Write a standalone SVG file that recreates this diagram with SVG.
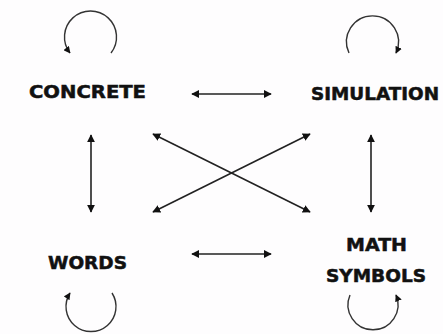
<svg xmlns="http://www.w3.org/2000/svg" width="443" height="334" viewBox="0 0 443 334">
<style>
.lbl{font-family:"DejaVu Sans","Liberation Sans",sans-serif;font-weight:bold;font-size:17px;fill:#111;stroke:#111;stroke-width:0.5;text-anchor:middle}
.ln{stroke:#222;stroke-width:1.6;fill:none}
.lp{stroke:#333;stroke-width:1.4;fill:none}
</style>
<defs>
<marker id="ah" viewBox="0 0 10 10" refX="9" refY="5" markerWidth="8" markerHeight="8" markerUnits="userSpaceOnUse" orient="auto-start-reverse">
<path d="M0,0 L10,5 L0,10 Z" fill="#111"/>
</marker>
<marker id="ahs" viewBox="0 0 10 10" refX="9" refY="5" markerWidth="7" markerHeight="7" markerUnits="userSpaceOnUse" orient="auto">
<path d="M0,0 L10,5 L0,10 Z" fill="#111"/>
</marker>
</defs>
<rect width="443" height="334" fill="#fefdfe"/>
<g id="concrete"><text class="lbl" x="87.5" y="98" textLength="117" lengthAdjust="spacingAndGlyphs">CONCRETE</text></g>
<g id="simulation"><text class="lbl" x="375" y="100" textLength="128" lengthAdjust="spacingAndGlyphs">SIMULATION</text></g>
<g id="words"><text class="lbl" x="87.5" y="269" textLength="79" lengthAdjust="spacingAndGlyphs">WORDS</text></g>
<g id="math-symbols"><text class="lbl" x="376.5" y="251" textLength="61" lengthAdjust="spacingAndGlyphs">MATH</text><text class="lbl" x="376" y="282" textLength="100" lengthAdjust="spacingAndGlyphs">SYMBOLS</text></g>
<g id="connectors">
<path class="lp" d="M111,53 A26,26 0 1 0 70,53" marker-end="url(#ahs)"/>
<path class="lp" d="M349,53 A26,26 0 1 1 396,53" marker-end="url(#ahs)"/>
<path class="lp" d="M112,293 A25,25 0 1 1 70,293" marker-end="url(#ahs)"/>
<path class="lp" d="M350,295 A25,25 0 1 0 396,295" marker-end="url(#ahs)"/>
<line class="ln" x1="192" y1="94" x2="271" y2="94" marker-start="url(#ah)" marker-end="url(#ah)"/>
<line class="ln" x1="192" y1="254" x2="271" y2="254" marker-start="url(#ah)" marker-end="url(#ah)"/>
<line class="ln" x1="91" y1="135" x2="91" y2="212" marker-start="url(#ah)" marker-end="url(#ah)"/>
<line class="ln" x1="371" y1="135" x2="371" y2="212" marker-start="url(#ah)" marker-end="url(#ah)"/>
<line class="ln" x1="153" y1="134" x2="310" y2="212" marker-start="url(#ah)" marker-end="url(#ah)"/>
<line class="ln" x1="310" y1="134" x2="153" y2="212" marker-start="url(#ah)" marker-end="url(#ah)"/>
</g>
</svg>
